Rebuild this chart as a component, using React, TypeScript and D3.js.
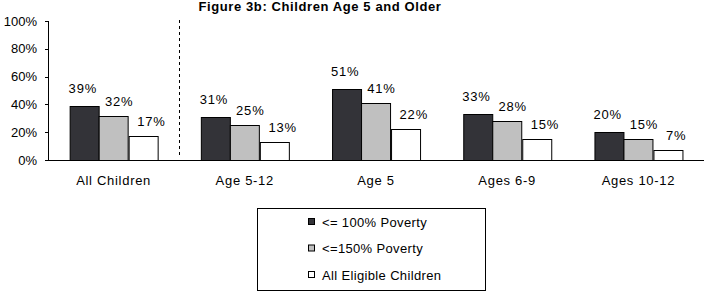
import React from "react";
import * as d3 from "d3";

const categories = ["All Children", "Age 5-12", "Age 5", "Ages 6-9", "Ages 10-12"];
const seriesNames = ["<= 100% Poverty", "<=150% Poverty", "All Eligible Children"];
const poverty100 = [0.39, 0.31, 0.51, 0.33, 0.2];
const poverty150 = [0.32, 0.25, 0.41, 0.28, 0.15];
const allEligible = [0.17, 0.13, 0.22, 0.15, 0.07];
const yTicks = [0, 0.2, 0.4, 0.6, 0.8, 1];

const colors = ["#333338", "#c0c0c0", "#ffffff"];
// excel puts the value labels slightly off-centre
const labelDx = [-1.5, 5.5, 8.5];
const labelDy = [13, 10, 10];

const W = 708;
const H = 300;
const font = "'Liberation Sans', Arial, sans-serif";

const App = () => {
  const series = [poverty100, poverty150, allEligible];

  const x = d3.scaleBand().domain(categories).range([48, 704]).paddingInner(0.33).paddingOuter(0.165);
  const xs = d3.scaleBand().domain(seriesNames).range([0, x.bandwidth()]);
  const y = d3.scaleLinear().domain([0, 1]).range([160, 21]);
  const fmt = d3.format(".0%");

  const dashX = Math.round(x(categories[1])! - (x.step() * 0.33) / 2) + 0.5;

  return (
    <svg width={W} height={H} style={{ position: "absolute", left: 0, top: 0, background: "#fff" }} fontFamily={font}>
      <text x={320} y={11} textAnchor="middle" fontSize={13} fontWeight="bold" letterSpacing={0.6}>
        Figure 3b: Children Age 5 and Older
      </text>

      {/* y axis */}
      <line x1={48.5} x2={48.5} y1={y(1)} y2={y(0)} stroke="#000" />
      {yTicks.map((t) => (
        <g key={t}>
          <line x1={45} x2={48.5} y1={Math.round(y(t)) + 0.5} y2={Math.round(y(t)) + 0.5} stroke="#000" />
          <text x={37} y={y(t) + 4.5} textAnchor="end" fontSize={13}>
            {fmt(t)}
          </text>
        </g>
      ))}

      {/* bars */}
      {categories.map((c, i) => (
        <g key={c} transform={`translate(${x(c)},0)`}>
          {series.map((s, j) => (
            <g key={j}>
              <rect
                x={Math.round(xs(seriesNames[j])!) + 0.5}
                y={Math.round(y(s[i])) + 0.5}
                width={Math.round(xs.bandwidth())}
                height={Math.round(y(0)) - Math.round(y(s[i]))}
                fill={colors[j]}
                stroke="#000"
              />
              <text
                x={xs(seriesNames[j])! + xs.bandwidth() / 2 + labelDx[j]}
                y={y(s[i]) - labelDy[j]}
                textAnchor="middle"
                fontSize={13}
                letterSpacing={0.8}
              >
                {fmt(s[i])}
              </text>
            </g>
          ))}
          <text x={x.bandwidth() / 2} y={185} textAnchor="middle" fontSize={13} letterSpacing={0.7}>
            {c}
          </text>
        </g>
      ))}

      {/* baseline */}
      <line x1={48} x2={704} y1={Math.round(y(0)) + 0.5} y2={Math.round(y(0)) + 0.5} stroke="#000" />

      {/* divider */}
      <line x1={dashX} x2={dashX} y1={20} y2={157} stroke="#000" strokeDasharray="3,3" />

      {/* legend */}
      <rect x={257.5} y={208.5} width={228} height={82} fill="#fff" stroke="#000" />
      {seriesNames.map((n, j) => (
        <g key={n} transform={`translate(308,${222 + j * 26.5})`}>
          <rect x={0.5} y={-3.5} width={6} height={6} fill={colors[j]} stroke="#000" />
          <text x={14} y={4.5} fontSize={13} letterSpacing={0.35}>
            {n}
          </text>
        </g>
      ))}
    </svg>
  );
};

export default App;
